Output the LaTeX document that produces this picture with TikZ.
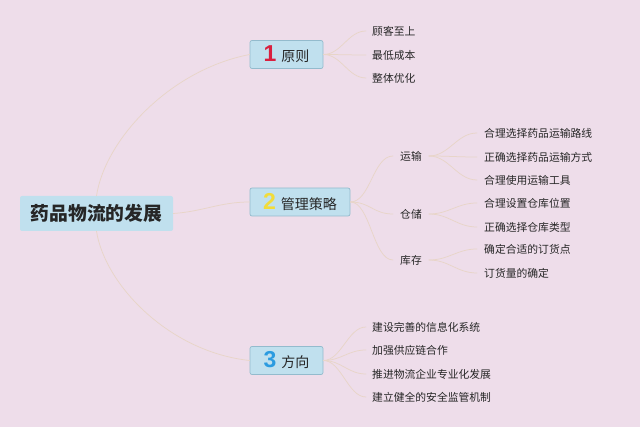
\documentclass[tikz,border=0pt]{standalone}
\usepackage{fontspec}
\setmainfont{Noto Sans CJK SC}
\newfontfamily\numfont{Liberation Sans}
\definecolor{bg}{HTML}{EEDDEA}
\definecolor{boxfill}{HTML}{C0E0EE}
\definecolor{boxline}{HTML}{93BBCD}
\definecolor{conncol}{HTML}{E8D5C8}
\definecolor{txt}{HTML}{262626}
\definecolor{nred}{HTML}{D9203F}
\definecolor{nyellow}{HTML}{F2DC3A}
\definecolor{nblue}{HTML}{2B9BE0}
\newcommand{\bignumber}[2]{{\numfont\fontsize{23}{23}\selectfont\bfseries\color{#1}#2}\hspace{5pt}}
\begin{document}
\begin{tikzpicture}[x=1pt,y=-1pt,
  rootbox/.style={fill=boxfill, rounded corners=2pt, minimum width=153pt, minimum height=35pt,
    inner sep=0pt, font=\fontsize{18.8}{19}\selectfont\bfseries, text=txt},
  mainbox/.style={fill=boxfill, draw=boxline, line width=0.7pt, rounded corners=2pt,
    minimum height=28pt, inner sep=0pt, font=\fontsize{14}{14}\selectfont, text=txt},
  leaf/.style={anchor=west, inner xsep=6pt, inner ysep=1pt, font=\fontsize{10.8}{11}\selectfont, text=txt},
  midleaf/.style={anchor=west, inner xsep=7pt, inner ysep=1pt, font=\fontsize{10.8}{11}\selectfont, text=txt},
  conn/.style={draw=conncol, line width=0.75pt, line cap=round}
]
\fill[bg] (0,0) rectangle (640,427);
\useasboundingbox (0,0) rectangle (640,427);

% main nodes
\node[rootbox] (root) at (96.5,213.5) {药品物流的发展};
\node[mainbox, minimum width=73pt] (b1) at (286.5,54.5) {\bignumber{nred}{1}原则};
\node[mainbox, minimum width=100pt] (b2) at (300,202) {\bignumber{nyellow}{2}管理策略};
\node[mainbox, minimum width=73pt] (b3) at (286.5,360.5) {\bignumber{nblue}{3}方向};

% branch 1
\node[leaf] (l11) at (366,31) {顾客至上};
\node[leaf] (l12) at (366,55) {最低成本};
\node[leaf] (l13) at (366,78) {整体优化};

% branch 2
\node[midleaf] (m1) at (393,156) {运输};
\node[midleaf] (m2) at (393,214) {仓储};
\node[midleaf] (m3) at (393,260) {库存};

\node[midleaf] (t11) at (477,133) {合理选择药品运输路线};
\node[midleaf] (t12) at (477,157) {正确选择药品运输方式};
\node[midleaf] (t13) at (477,180) {合理使用运输工具};
\node[midleaf] (t21) at (477,203) {合理设置仓库位置};
\node[midleaf] (t22) at (477,227) {正确选择仓库类型};
\node[midleaf] (t31) at (477,249) {确定合适的订货点};
\node[midleaf] (t32) at (477,273) {订货量的确定};

% branch 3
\node[leaf] (l31) at (366,327) {建设完善的信息化系统};
\node[leaf] (l32) at (366,350) {加强供应链合作};
\node[leaf] (l33) at (366,374) {推进物流企业专业化发展};
\node[leaf] (l34) at (366,397) {建立健全的安全监管机制};

% connectors
\draw[conn] (root.north) .. controls +(8.5,-56) and +(-80,15.5) .. (b1.west);
\draw[conn] (root.east) .. controls +(30,-2) and +(-30,0) .. (b2.west);
\draw[conn] (root.south) .. controls +(8.5,54) and +(-80,-8.5) .. (b3.west);

\foreach \t in {l11,l12,l13}
  \draw[conn] (b1.east) .. controls +(18,0) and +(-18,0) .. (\t.west);
\foreach \t in {m1,m2,m3}
  \draw[conn] (b2.east) .. controls +(20,0) and +(-20,0) .. (\t.west);
\foreach \t in {t11,t12,t13}
  \draw[conn] (m1.east) .. controls +(20,0) and +(-20,0) .. (\t.west);
\foreach \t in {t21,t22}
  \draw[conn] (m2.east) .. controls +(20,0) and +(-20,0) .. (\t.west);
\foreach \t in {t31,t32}
  \draw[conn] (m3.east) .. controls +(20,0) and +(-20,0) .. (\t.west);
\foreach \t in {l31,l32,l33,l34}
  \draw[conn] (b3.east) .. controls +(18,0) and +(-18,0) .. (\t.west);
\end{tikzpicture}
\end{document}
